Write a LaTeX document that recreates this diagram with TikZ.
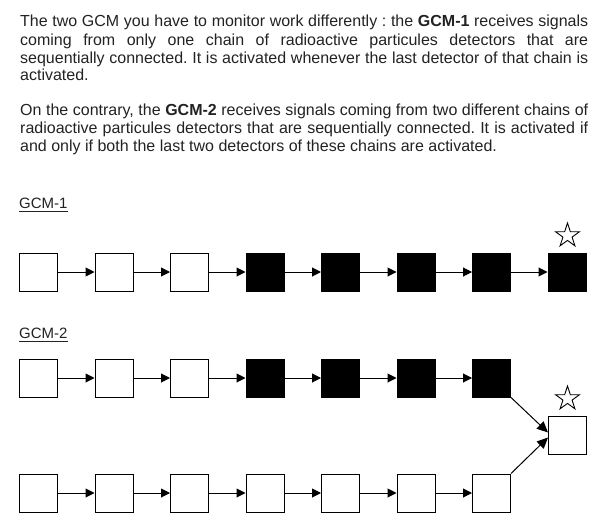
\documentclass[tikz,border=0pt]{standalone}
\usepackage{fontspec}
\setmainfont{Liberation Sans}
\usetikzlibrary{arrows.meta,shapes.geometric}
\definecolor{txt}{RGB}{34,34,34}
\begin{document}
\begin{tikzpicture}[x=1pt,y=-1pt,
  para/.style={anchor=base west, inner sep=0pt, text width=568pt, align=justify,
    font=\fontsize{16pt}{18pt}\selectfont, text=txt,
    execute at begin node={\frenchspacing\tolerance=10000\hyphenpenalty=10000\emergencystretch=40pt}},
  lab/.style={anchor=base west, inner sep=0pt, font=\fontsize{15pt}{17.3pt}\selectfont, text=txt},
  det/.style={draw=black, line width=1pt, minimum size=38pt, inner sep=0pt, fill=white},
  on/.style={det, fill=black},
  link/.style={line width=1pt, -{Triangle[length=9pt,width=9pt]}},
  biglink/.style={line width=1pt, -{Triangle[length=11pt,width=10pt]}},
  gstar/.style={star, star points=5, star point ratio=2.618, draw=black, line width=0.9pt,
    minimum size=25.2pt, inner sep=0pt}
]
\useasboundingbox (0,0) rectangle (605,530);

% text
\node[para] (p1) at (20,27) {The two GCM you have to monitor work differently : the \textbf{GCM-1} receives signals\linebreak
coming from only one chain of radioactive particules detectors that are\linebreak
sequentially connected. It is activated whenever the last detector of that chain is\linebreak
activated.};
\node[para] (p2) at (20,115) {On the contrary, the \textbf{GCM-2} receives signals coming from two different chains of\linebreak
radioactive particules detectors that are sequentially connected. It is activated if\linebreak
and only if both the last two detectors of these chains are activated.};

% labels
\node[lab] (l1) at (19,208) {GCM-1};
\draw[txt, line width=0.9pt] ([yshift=-3pt]l1.base west) -- ([yshift=-3pt]l1.base east);
\node[lab] (l2) at (19,338) {GCM-2};
\draw[txt, line width=0.9pt] ([yshift=-3pt]l2.base west) -- ([yshift=-3pt]l2.base east);

% GCM-1 chain
\node[det] (a1) at (38.5,272) {};
\node[det] (a2) at (114,272) {};
\node[det] (a3) at (189.5,272) {};
\node[on]  (a4) at (265,272) {};
\node[on]  (a5) at (340.5,272) {};
\node[on]  (a6) at (416,272) {};
\node[on]  (a7) at (491.5,272) {};
\node[on]  (a8) at (567,272) {};
\foreach \i/\j in {a1/a2,a2/a3,a3/a4,a4/a5,a5/a6,a6/a7,a7/a8}
  \draw[link] (\i.east) -- (\j.west);
\node[gstar] (s1) at (567.5,235.6) {};

% GCM-2 top chain
\node[det] (b1) at (38.5,378) {};
\node[det] (b2) at (114,378) {};
\node[det] (b3) at (189.5,378) {};
\node[on]  (b4) at (265,378) {};
\node[on]  (b5) at (340.5,378) {};
\node[on]  (b6) at (416,378) {};
\node[on]  (b7) at (491.5,378) {};
\foreach \i/\j in {b1/b2,b2/b3,b3/b4,b4/b5,b5/b6,b6/b7}
  \draw[link] (\i.east) -- (\j.west);

% GCM-2 bottom chain
\node[det] (c1) at (38.5,493) {};
\node[det] (c2) at (114,493) {};
\node[det] (c3) at (189.5,493) {};
\node[det] (c4) at (265,493) {};
\node[det] (c5) at (340.5,493) {};
\node[det] (c6) at (416,493) {};
\node[det] (c7) at (491.5,493) {};
\foreach \i/\j in {c1/c2,c2/c3,c3/c4,c4/c5,c5/c6,c6/c7}
  \draw[link] (\i.east) -- (\j.west);

% final detector
\node[det] (f) at (567.5,435) {};
\node[gstar] (s2) at (567.5,398.6) {};
\draw[biglink] (b7.south east) -- ([yshift=2.5pt]f.west);
\draw[biglink] (c7.north east) -- ([yshift=-2.5pt]f.west);
\end{tikzpicture}
\end{document}
